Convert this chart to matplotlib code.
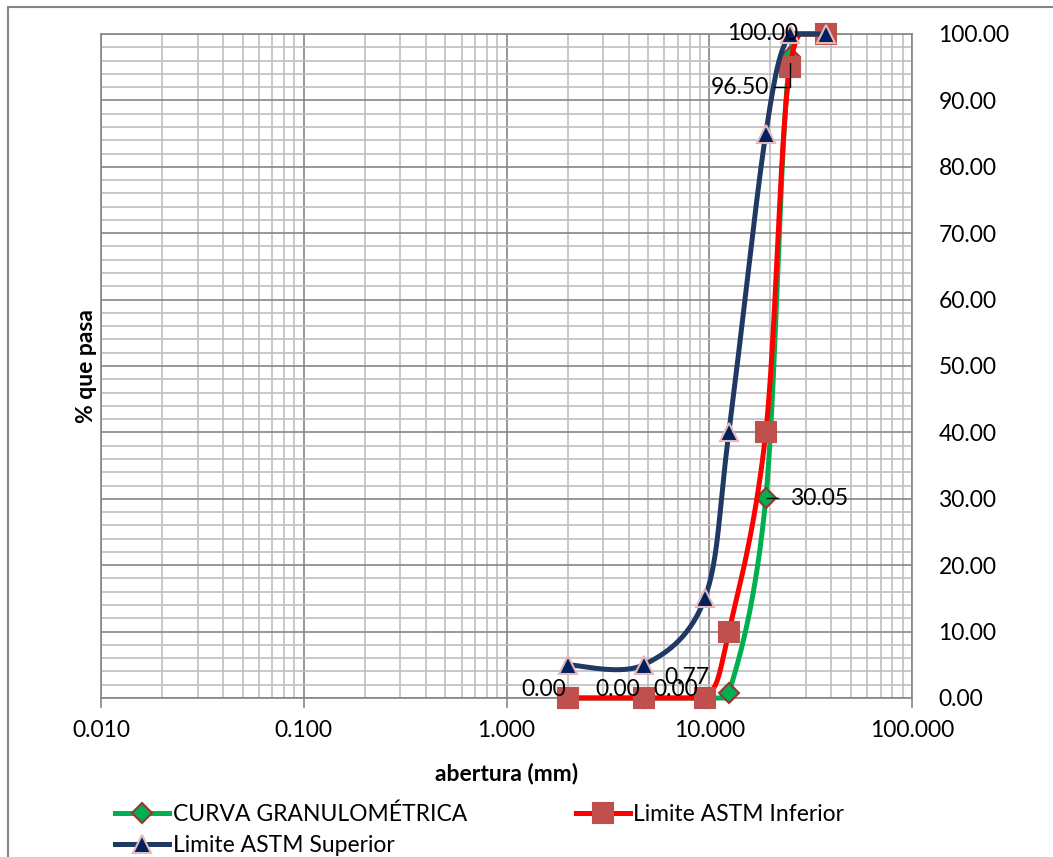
import numpy as np
import matplotlib.pyplot as plt
from matplotlib.lines import Line2D
from matplotlib.patches import Rectangle
from matplotlib.ticker import FixedLocator, FormatStrFormatter

plt.rcParams['font.family'] = ['Lato', 'DejaVu Sans']

# sieve openings (mm) and % passing
abertura = [2.00, 4.75, 9.50, 12.50, 19.00, 25.00, 37.50]
curva = [0.00, 0.00, 0.00, 0.77, 30.05, 96.50, 100.00]
lim_inferior = [0, 0, 0, 10, 40, 95, 100]
lim_superior = [5, 5, 15, 40, 85, 100, 100]

x_ticks = [0.01, 0.1, 1, 10, 100]
y_ticks = [0, 10, 20, 30, 40, 50, 60, 70, 80, 90, 100]

FS = 16.5


def smooth(xs, ys, n=60):
    # excel-like smoothed line (bezier through points, in log-x space)
    P = np.column_stack([np.log10(xs), ys]).astype(float)
    out = []
    for i in range(len(P) - 1):
        p0 = P[i - 1] if i > 0 else P[i]
        p1, p2 = P[i], P[i + 1]
        p3 = P[i + 2] if i + 2 < len(P) else P[i + 1]
        c1 = p1 + (p2 - p0) / 6
        c2 = p2 - (p3 - p1) / 6
        t = np.linspace(0, 1, n)[:, None]
        b = (1 - t)**3 * p1 + 3 * (1 - t)**2 * t * c1 + 3 * (1 - t) * t**2 * c2 + t**3 * p2
        out.append(b)
    b = np.vstack(out)
    return 10**b[:, 0], np.clip(b[:, 1], 0, 100)


fig = plt.figure(figsize=(10.53, 8.57), dpi=100)
ax = fig.add_axes([101/1053, 1 - 698/857, (912 - 101)/1053, (698 - 34)/857])

fig.patches.append(Rectangle((8/1053, -0.1), 2, 1 - 7/857 + 0.1, transform=fig.transFigure,
                             fill=False, edgecolor='#868686', lw=1.5))

series = [
    (curva, 'CURVA GRANULOMÉTRICA', '#00B050', 'D', 10, '#00B050', '#953735'),
    (lim_inferior, 'Limite ASTM Inferior', '#FF0000', 's', 14, '#C0504D', '#C0504D'),
    (lim_superior, 'Limite ASTM Superior', '#1F3864', '^', 13, '#002060', '#E6B9B8'),
]
handles = {}
for k, (ys, name, lc, mk, ms, mfc, mec) in enumerate(series):
    sx, sy = smooth(abertura, ys)
    ax.plot(sx, sy, color=lc, lw=3.6, clip_on=False, zorder=3 + 2*k, solid_capstyle='round')
    ax.plot(abertura, ys, ls='none', marker=mk, ms=ms, mfc=mfc, mec=mec, mew=1.5,
            clip_on=False, zorder=4 + 2*k)
    handles[name] = Line2D([], [], color=lc, lw=3.6, marker=mk, ms=ms, mfc=mfc, mec=mec, mew=1.5)

# data labels of the grading curve (offsets in pixels)
label_off = [(-1, 8), (-4, 8), (-7, 8), (-20, 15), (24, 0), (-21, -30), (-27, 0)]
for xv, yv, (dx, dy) in zip(abertura, curva, label_off):
    ha = 'left' if dx > 0 else 'right'
    kw = {}
    if abs(yv - 30.05) < 1e-6:
        kw['arrowprops'] = dict(arrowstyle='-', color='black', lw=1, shrinkA=6, shrinkB=1)
    if abs(yv - 96.50) < 1e-6:
        kw['arrowprops'] = dict(arrowstyle='-', color='black', lw=1, shrinkA=2, shrinkB=4,
                                connectionstyle='angle,angleA=0,angleB=90,rad=0')
    ax.annotate(f'{yv:.2f}', (xv, yv), xytext=(dx*0.72, dy*0.72), textcoords='offset points',
                ha=ha, va='center', fontsize=FS, zorder=10, annotation_clip=False, **kw)

ax.set_xscale('log')
ax.set_xlim(0.01, 100)
ax.set_ylim(0, 100)
ax.xaxis.set_major_locator(FixedLocator(x_ticks))
ax.xaxis.set_major_formatter(FormatStrFormatter('%.3f'))
ax.yaxis.set_major_locator(FixedLocator(y_ticks))
ax.yaxis.set_major_formatter(FormatStrFormatter('%.2f'))
ax.yaxis.set_minor_locator(FixedLocator(np.arange(0, 101, 2)))

ax.grid(which='major', color='#868686', lw=1.2)
ax.grid(which='minor', color='#BFBFBF', lw=1.2)
ax.set_axisbelow(True)

ax.yaxis.tick_right()
ax.tick_params(axis='y', which='both', length=0, pad=19, labelsize=FS)
ax.tick_params(axis='x', which='major', direction='out', length=7, width=1.2, color='#868686',
               pad=9, labelsize=FS)
ax.tick_params(axis='x', which='minor', length=0)
for s in ax.spines.values():
    s.set_color('#868686')
    s.set_linewidth(1.2)

ax.set_xlabel('abertura (mm)', fontsize=FS, fontweight='bold')
ax.xaxis.set_label_coords(0.5, -0.097)
ax.yaxis.set_label_position('left')
ax.set_ylabel('% que pasa', fontsize=FS, fontweight='bold')
ax.yaxis.set_label_coords(-0.005, 0.5)

order = ['CURVA GRANULOMÉTRICA', 'Limite ASTM Superior', 'Limite ASTM Inferior']
fig.legend([handles[o] for o in order], order, ncol=2, loc='upper left',
           bbox_to_anchor=(104/1053, 1 - 792/857), frameon=False, fontsize=FS,
           borderpad=0, handlelength=2.35, handletextpad=0.15, columnspacing=4.75,
           labelspacing=0.42, numpoints=1)

fig.savefig('out.png', dpi=100)
